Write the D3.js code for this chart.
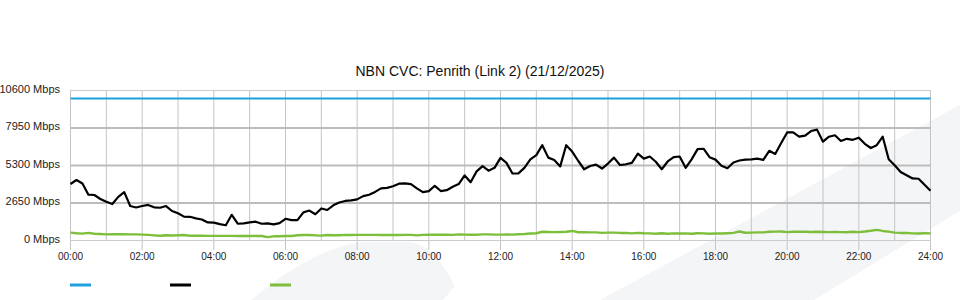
<!DOCTYPE html>
<html>
<head>
<meta charset="utf-8">
<script src="https://cdn.jsdelivr.net/npm/d3@7"></script>
<style>
body { margin: 0; background: #fff; }
svg { display: block; font-family: "Liberation Sans", Arial, sans-serif; }
</style>
</head>
<body>
<svg id="chart" width="960" height="300"></svg>
<script>
const title = 'NBN CVC: Penrith (Link 2) (21/12/2025)'
const yTicks = [0, 2650, 5300, 7950, 10600]
const xTickLabels = ['00:00', '02:00', '04:00', '06:00', '08:00', '10:00', '12:00',
    '14:00', '16:00', '18:00', '20:00', '22:00', '24:00']
const stepMinutes = 10
const capacity = 10000

// Mbps, one value every 10 minutes from 00:00 to 24:00
const traffic = [
    3960, 4240, 3990, 3200, 3180, 2900,
    2700, 2540, 3050, 3380, 2400, 2300,
    2400, 2480, 2310, 2280, 2400, 2050,
    1890, 1650, 1640, 1530, 1450, 1240,
    1225, 1120, 1040, 1780, 1150, 1180,
    1250, 1295, 1150, 1180, 1100, 1190,
    1500, 1400, 1400, 1950, 2080, 1820,
    2230, 2120, 2450, 2650, 2760, 2800,
    2870, 3100, 3200, 3400, 3650, 3680,
    3800, 3980, 4000, 3950, 3650, 3380,
    3450, 3830, 3460, 3520, 3760, 3950,
    4560, 4080, 4850, 5220, 4900, 5100,
    5800, 5450, 4700, 4710, 5100, 5700,
    6000, 6700, 5820, 5650, 5200, 6700,
    6250, 5600, 5000, 5230, 5330, 5050,
    5400, 5820, 5300, 5350, 5450, 6100,
    5750, 5900, 5530, 5000, 5550, 5850,
    5900, 5100, 5700, 6420, 6450, 5850,
    5680, 5250, 5070, 5480, 5620, 5680,
    5700, 5750, 5660, 6300, 6080, 6850,
    7600, 7600, 7300, 7380, 7700, 7800,
    6950, 7300, 7400, 7000, 7150, 7080,
    7230, 6800, 6500, 6700, 7300, 5700,
    5280, 4800, 4570, 4350, 4330, 3900,
    3480
]

const other = [
    520, 480, 450, 500, 440, 420,
    400, 410, 410, 410, 400, 400,
    380, 360, 330, 300, 340, 320,
    340, 350, 300, 300, 300, 290,
    290, 290, 290, 290, 280, 280,
    280, 290, 280, 200, 260, 270,
    280, 280, 340, 350, 350, 330,
    310, 350, 340, 340, 360, 350,
    360, 360, 360, 360, 350, 350,
    350, 350, 360, 360, 330, 360,
    370, 370, 370, 370, 360, 400,
    380, 370, 370, 400, 400, 380,
    380, 390, 380, 410, 420, 460,
    480, 580, 570, 560, 570, 580,
    640, 550, 560, 540, 540, 500,
    520, 520, 500, 500, 470, 500,
    480, 470, 440, 480, 440, 470,
    460, 470, 440, 480, 470, 440,
    460, 460, 480, 500, 600, 510,
    520, 540, 540, 580, 590, 600,
    560, 580, 590, 580, 570, 580,
    570, 560, 570, 560, 550, 580,
    560, 600, 650, 720, 640, 590,
    520, 500, 500, 470, 460, 480,
    470
]

const colors = { capacity: '#1ea0dc', traffic: '#000000', other: '#7dbf3b' }

const svg = d3.select('#chart')

const x = d3.scaleLinear().domain([0, 1440]).range([70.5, 930.5])
const y = d3.scaleLinear().domain([0, 10600]).range([240, 90])

// faint background logo
const bg = svg.append('g').attr('fill', '#f4f5f7')
bg.append('path')
    .attr('d', 'M251,300 C285,272 325,246 362,242 L408,242 C428,244 440,258 455,286 L443,300 Z')
bg.append('path')
    .attr('d', 'M600,300 L960,105 L960,211 L814,300 Z')

svg.append('text')
    .attr('x', 480)
    .attr('y', 76)
    .attr('text-anchor', 'middle')
    .attr('font-size', 14)
    .attr('fill', '#111')
    .text(title)

// vertical grid, every hour
const hours = d3.range(0, 25)
svg.append('g').selectAll('line')
    .data(hours)
    .enter()
    .append('line')
    .attr('x1', h => x(h * 60))
    .attr('x2', h => x(h * 60))
    .attr('y1', 90)
    .attr('y2', h => h % 2 === 0 ? 250 : 240)
    .attr('stroke', '#c4c4c4')
    .attr('stroke-width', 1)

// horizontal grid
svg.append('g').selectAll('line')
    .data(yTicks)
    .enter()
    .append('line')
    .attr('x1', 70)
    .attr('x2', 931)
    .attr('y1', d => y(d) + 0.5)
    .attr('y2', d => y(d) + 0.5)
    .attr('stroke', d => (d === 0 || d === 10600) ? '#cccccc' : '#bdbdbd')
    .attr('stroke-width', d => (d === 0 || d === 10600) ? 1 : 2)

svg.append('g').selectAll('text')
    .data(yTicks)
    .enter()
    .append('text')
    .attr('x', 60)
    .attr('y', d => y(d) + 2.5)
    .attr('text-anchor', 'end')
    .attr('font-size', 11)
    .attr('fill', '#222')
    .text(d => d + ' Mbps')

svg.append('g').selectAll('text')
    .data(xTickLabels)
    .enter()
    .append('text')
    .attr('x', (d, i) => x(i * 120))
    .attr('y', 260)
    .attr('text-anchor', 'middle')
    .attr('font-size', 10)
    .attr('fill', '#222')
    .text(d => d)

const line = d3.line()
    .x((d, i) => x(i * stepMinutes))
    .y(d => y(d))

svg.append('path')
    .datum([capacity, capacity])
    .attr('d', d3.line().x((d, i) => x(i * 1440)).y(d => y(d)))
    .attr('fill', 'none')
    .attr('stroke', colors.capacity)
    .attr('stroke-width', 2)

svg.append('path')
    .datum(other)
    .attr('d', line)
    .attr('fill', 'none')
    .attr('stroke', colors.other)
    .attr('stroke-width', 2.4)
    .attr('stroke-linejoin', 'round')

svg.append('path')
    .datum(traffic)
    .attr('d', line)
    .attr('fill', 'none')
    .attr('stroke', colors.traffic)
    .attr('stroke-width', 2.2)
    .attr('stroke-linejoin', 'round')

// legend swatches (no labels in the source)
const legend = ['capacity', 'traffic', 'other']
svg.append('g').selectAll('line')
    .data(legend)
    .enter()
    .append('line')
    .attr('x1', (d, i) => 70 + i * 100)
    .attr('x2', (d, i) => 91 + i * 100)
    .attr('y1', 285)
    .attr('y2', 285)
    .attr('stroke', d => colors[d])
    .attr('stroke-width', 3)
</script>
</body>
</html>
